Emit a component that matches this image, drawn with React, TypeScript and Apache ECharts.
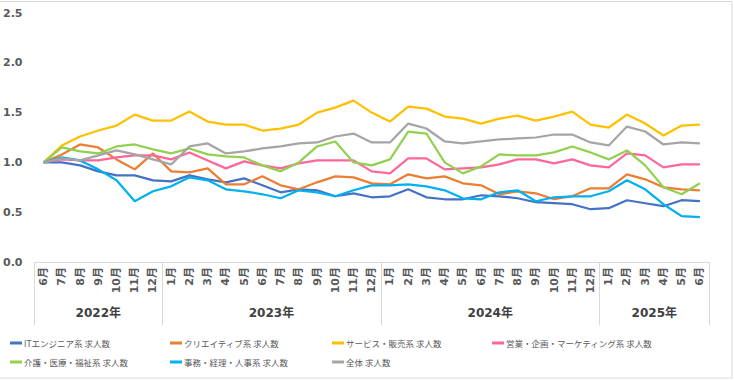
import React, { useEffect, useRef } from "react";
import * as echarts from "echarts";

const monthLabels = [
  "6月", "7月", "8月", "9月", "10月", "11月", "12月",
  "1月", "2月", "3月", "4月", "5月", "6月", "7月", "8月", "9月", "10月", "11月", "12月",
  "1月", "2月", "3月", "4月", "5月", "6月", "7月", "8月", "9月", "10月", "11月", "12月",
  "1月", "2月", "3月", "4月", "5月", "6月",
];
const yearLabels = ["2022年", "2023年", "2024年", "2025年"];
const yearSpans = [7, 12, 12, 6];

const seriesNames = [
  "ITエンジニア系 求人数",
  "クリエイティブ系 求人数",
  "サービス・販売系 求人数",
  "営業・企画・マーケティング系 求人数",
  "介護・医療・福祉系 求人数",
  "事務・経理・人事系 求人数",
  "全体 求人数",
];
const seriesColors = ["#4472C4", "#ED7D31", "#FFC000", "#FF6699", "#92D050", "#00B0F0", "#A5A5A5"];

const itValues = [1.0, 1.0, 0.97, 0.91, 0.87, 0.87, 0.82, 0.81, 0.87, 0.83, 0.80, 0.84, 0.77, 0.70, 0.73, 0.72, 0.66, 0.69, 0.65, 0.66, 0.73, 0.65, 0.63, 0.63, 0.67, 0.66, 0.64, 0.60, 0.59, 0.58, 0.53, 0.54, 0.62, 0.59, 0.56, 0.62, 0.61];
const creativeValues = [1.0, 1.08, 1.18, 1.15, 1.03, 0.93, 1.09, 0.91, 0.90, 0.94, 0.78, 0.78, 0.86, 0.77, 0.73, 0.80, 0.86, 0.85, 0.79, 0.78, 0.88, 0.84, 0.86, 0.79, 0.77, 0.68, 0.71, 0.69, 0.63, 0.66, 0.74, 0.74, 0.88, 0.83, 0.75, 0.73, 0.72];
const serviceValues = [1.0, 1.17, 1.26, 1.32, 1.37, 1.48, 1.42, 1.42, 1.51, 1.41, 1.38, 1.38, 1.32, 1.34, 1.38, 1.50, 1.55, 1.62, 1.50, 1.41, 1.56, 1.54, 1.46, 1.44, 1.39, 1.44, 1.47, 1.42, 1.46, 1.51, 1.38, 1.35, 1.48, 1.39, 1.27, 1.37, 1.38];
const salesValues = [1.0, 1.03, 1.02, 1.02, 1.05, 1.07, 1.07, 1.03, 1.10, 1.02, 0.94, 1.01, 0.97, 0.94, 0.99, 1.02, 1.02, 1.02, 0.91, 0.89, 1.04, 1.04, 0.93, 0.94, 0.95, 0.98, 1.03, 1.03, 0.99, 1.03, 0.97, 0.95, 1.09, 1.07, 0.95, 0.98, 0.98];
const careValues = [1.0, 1.15, 1.11, 1.09, 1.16, 1.18, 1.13, 1.09, 1.14, 1.08, 1.06, 1.05, 0.97, 0.91, 1.0, 1.16, 1.21, 1.0, 0.97, 1.03, 1.31, 1.29, 1.0, 0.89, 0.96, 1.08, 1.07, 1.07, 1.10, 1.16, 1.10, 1.03, 1.12, 0.97, 0.75, 0.68, 0.79];
const officeValues = [1.0, 1.05, 1.02, 0.93, 0.82, 0.61, 0.71, 0.76, 0.85, 0.82, 0.73, 0.71, 0.68, 0.64, 0.72, 0.70, 0.66, 0.72, 0.77, 0.77, 0.78, 0.76, 0.72, 0.64, 0.63, 0.70, 0.72, 0.61, 0.65, 0.66, 0.66, 0.71, 0.82, 0.73, 0.58, 0.46, 0.45];
const totalValues = [1.0, 1.04, 1.02, 1.07, 1.12, 1.08, 1.03, 0.98, 1.16, 1.19, 1.09, 1.11, 1.14, 1.16, 1.19, 1.20, 1.26, 1.29, 1.20, 1.20, 1.39, 1.34, 1.21, 1.19, 1.21, 1.23, 1.24, 1.25, 1.28, 1.28, 1.20, 1.17, 1.36, 1.31, 1.18, 1.20, 1.19];

const allValues = [itValues, creativeValues, serviceValues, salesValues, careValues, officeValues, totalValues];

export default function App() {
  const ref = useRef<HTMLDivElement>(null);

  useEffect(() => {
    if (!ref.current) return;
    const chart = echarts.init(ref.current, null, { renderer: "svg" });

    // Year axis: half-month slots so that labels can sit at the centre of each year span
    const slots = monthLabels.length * 2 + 1;
    const yearSlotLabels: string[] = new Array(slots).fill("");
    const boundaries: number[] = [];
    let start = 0;
    yearLabels.forEach((lab, j) => {
      boundaries.push(start * 2);
      yearSlotLabels[start * 2 + yearSpans[j]] = lab;
      start += yearSpans[j];
    });
    boundaries.push(start * 2);
    const yearSlotData = yearSlotLabels.map((_, i) => String(i));

    const font = "DejaVu Sans, Noto Sans CJK JP, sans-serif";
    const legendCols = [
      { left: 10, items: [0, 4] },
      { left: 170, items: [1, 5] },
      { left: 332, items: [2, 6] },
      { left: 492, items: [3] },
    ];

    chart.setOption({
      animation: false,
      backgroundColor: "#ffffff",
      grid: { left: 32, right: 25, top: 13, bottom: 118, containLabel: false },
      xAxis: [
        {
          type: "category",
          data: monthLabels,
          boundaryGap: true,
          axisLine: { show: false },
          axisTick: { show: false },
          axisLabel: {
            interval: 0,
            rotate: 90,
            margin: 5,
            fontSize: 11,
            fontWeight: "bold",
            color: "#595959",
            fontFamily: font,
          },
        },
        {
          type: "category",
          data: yearSlotData,
          boundaryGap: false,
          position: "bottom",
          axisLine: { show: true, lineStyle: { color: "#D9D9D9", width: 1 } },
          axisTick: {
            show: true,
            length: 63,
            interval: (index: number) => boundaries.indexOf(index) >= 0,
            lineStyle: { color: "#D9D9D9", width: 1 },
          },
          axisLabel: {
            interval: 0,
            margin: 45,
            fontSize: 12,
            fontWeight: "bold",
            color: "#404040",
            fontFamily: font,
            formatter: (_v: string, idx: number) => yearSlotLabels[idx] || "",
          },
          splitLine: { show: false },
        },
      ],
      yAxis: {
        type: "value",
        min: 0,
        max: 2.5,
        interval: 0.5,
        splitLine: { show: false },
        axisLine: { show: false },
        axisTick: { show: false },
        axisLabel: {
          margin: 12,
          fontSize: 11,
          fontWeight: "bold",
          color: "#595959",
          fontFamily: font,
          formatter: (v: number) => v.toFixed(1),
        },
      },
      legend: legendCols.map((c) => ({
        orient: "vertical",
        left: c.left,
        top: 337,
        itemGap: 7,
        itemWidth: 12,
        itemHeight: 3,
        icon: "rect",
        padding: 0,
        data: c.items.map((i) => seriesNames[i]),
        textStyle: { fontSize: 8.5, color: "#595959", fontFamily: "Noto Sans CJK JP", lineHeight: 12, padding: [0, 0, 0, -3] },
      })),
      graphic: [
        {
          type: "rect",
          shape: { x: -1, y: 1.5, width: 733, height: 376.5 },
          style: { fill: "none", stroke: "#D9D9D9", lineWidth: 1 },
          silent: true,
        },
      ],
      series: seriesNames.map((name, i) => ({
        name,
        type: "line",
        xAxisIndex: 0,
        data: allValues[i],
        symbol: "none",
        showSymbol: false,
        lineStyle: { width: 2.25, color: seriesColors[i] },
        itemStyle: { color: seriesColors[i] },
      })),
    });

    return () => chart.dispose();
  }, []);

  return (
    <div
      ref={ref}
      style={{ position: "fixed", left: 0, top: 0, width: 734, height: 380 }}
    />
  );
}
